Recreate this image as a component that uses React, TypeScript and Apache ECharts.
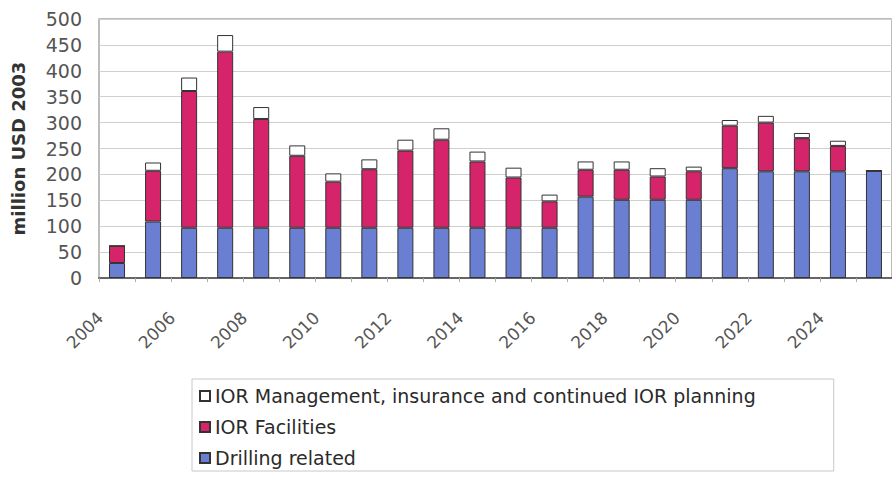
import React, { useEffect, useRef } from "react";
import * as echarts from "echarts";

const years = [
  "2004", "2005", "2006", "2007", "2008", "2009", "2010", "2011", "2012", "2013", "2014",
  "2015", "2016", "2017", "2018", "2019", "2020", "2021", "2022", "2023", "2024", "2025",
];
const drilling = [29, 109, 97, 97, 97, 97, 97, 97, 97, 97, 97, 97, 97, 157, 151, 151, 151, 212, 206, 206, 206, 207];
const facilities = [33, 98, 264, 340, 210, 139, 89, 113, 149, 170, 128, 97, 51, 52, 58, 45, 55, 82, 94, 64, 49, 0];
const management = [0, 16, 26, 32, 23, 20, 16, 19, 21, 22, 19, 19, 13, 16, 16, 16, 9, 11, 13, 10, 10, 0];
const seriesNames = [
  "IOR Management, insurance and continued IOR planning",
  "IOR Facilities",
  "Drilling related",
];
const yTicks = { min: 0, max: 500, interval: 50 };

const FONT = "DejaVu Sans";

export default function App() {
  const ref = useRef<HTMLDivElement>(null);
  useEffect(() => {
    if (!ref.current) return;
    const chart = echarts.init(ref.current, null, { renderer: "svg" });
    const barBase = {
      type: "bar" as const,
      stack: "total",
      barWidth: 16,
    };
    chart.setOption({
      animation: false,
      backgroundColor: "#ffffff",
      textStyle: { fontFamily: FONT },
      grid: {
        left: 99,
        top: 19,
        width: 800,
        height: 259,
        show: true,
        borderColor: "#a8a8a8",
        borderWidth: 1.5,
        backgroundColor: "transparent",
      },
      legend: {
        type: "plain",
        orient: "vertical",
        left: 192,
        top: 379,
        height: 200,
        data: seriesNames,
        icon: "rect",
        itemWidth: 10,
        itemHeight: 10,
        itemGap: 11,
        padding: [7, 78, 3, 7],
        borderColor: "#c8c8c8",
        borderWidth: 1,
        textStyle: { fontFamily: FONT, fontSize: 19, color: "#2a2a2a", lineHeight: 20 },
      },
      xAxis: {
        type: "category",
        data: years,
        boundaryGap: true,
        axisLine: { lineStyle: { color: "#666", width: 2 } },
        axisTick: { show: true, interval: 0, length: 4, lineStyle: { color: "#aaa" } },
        axisLabel: {
          interval: 1,
          rotate: 45,
          margin: 20,
          padding: [0, 24, 0, 0],
          fontFamily: FONT,
          fontSize: 17,
          color: "#555",
        },
        splitLine: { show: false },
      },
      yAxis: {
        type: "value",
        min: yTicks.min,
        max: yTicks.max,
        interval: yTicks.interval,
        name: "million USD 2003",
        nameLocation: "middle",
        nameGap: 72,
        nameTextStyle: { fontFamily: FONT, fontSize: 18, fontWeight: "bold", color: "#333" },
        axisLine: { show: false },
        axisTick: { show: false },
        axisLabel: { fontFamily: FONT, fontSize: 19, color: "#555", margin: 17 },
        splitLine: { lineStyle: { color: "#cfcfcf", width: 1 } },
      },
      series: [
        {
          ...barBase,
          name: seriesNames[2],
          data: drilling,
          itemStyle: { color: "#6a7fd1", borderColor: "#333", borderWidth: 1 },
        },
        {
          ...barBase,
          name: seriesNames[1],
          data: facilities,
          itemStyle: { color: "#d6246a", borderColor: "#333", borderWidth: 1 },
        },
        {
          ...barBase,
          name: seriesNames[0],
          data: management,
          itemStyle: { color: "#ffffff", borderColor: "#333", borderWidth: 1 },
        },
      ],
    });
    return () => chart.dispose();
  }, []);
  return (
    <div
      ref={ref}
      style={{ position: "fixed", left: 0, top: 0, width: 892, height: 483 }}
    />
  );
}
